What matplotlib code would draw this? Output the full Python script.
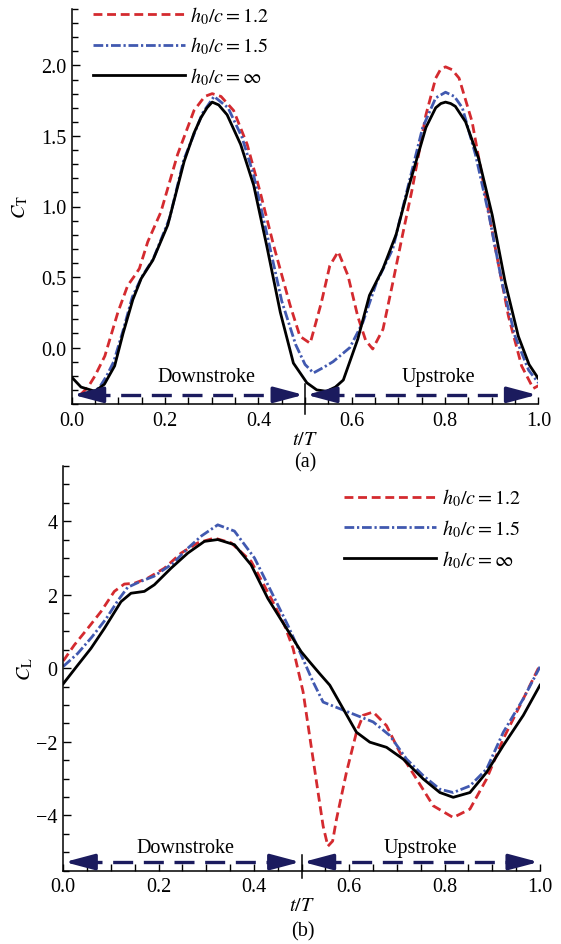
import matplotlib
matplotlib.use('Agg')
import matplotlib.pyplot as plt
import numpy as np

plt.rcParams['font.family'] = ['Liberation Serif', 'DejaVu Serif']
plt.rcParams['mathtext.fontset'] = 'stix'
plt.rcParams['font.size'] = 14.5
plt.rcParams['lines.solid_joinstyle'] = 'round'
plt.rcParams['lines.dash_joinstyle'] = 'round'

# ---- (a) thrust coefficient ----
t_ct_inf = [0.0, 0.02, 0.05, 0.07, 0.092, 0.11, 0.131, 0.149, 0.174, 0.206, 0.241, 0.262, 0.277,
            0.29, 0.301, 0.315, 0.333, 0.362, 0.39, 0.418, 0.447, 0.475, 0.504, 0.525, 0.546,
            0.565, 0.582, 0.613, 0.638, 0.667, 0.695, 0.723, 0.759, 0.78, 0.791, 0.801, 0.812,
            0.822, 0.844, 0.872, 0.901, 0.929, 0.957, 0.98, 1.0]
ct_inf = [-0.21, -0.28, -0.31, -0.26, -0.13, 0.10, 0.34, 0.49, 0.62, 0.87, 1.32, 1.52, 1.63,
          1.70, 1.74, 1.72, 1.65, 1.44, 1.15, 0.72, 0.25, -0.11, -0.25, -0.30, -0.31,
          -0.28, -0.23, 0.06, 0.37, 0.56, 0.80, 1.15, 1.56, 1.70, 1.73, 1.74, 1.73,
          1.71, 1.60, 1.34, 0.94, 0.46, 0.08, -0.12, -0.22]

t_ct_12 = [0.02, 0.035, 0.05, 0.071, 0.099, 0.12, 0.135, 0.145, 0.163, 0.191, 0.227, 0.262, 0.285,
           0.301, 0.32, 0.347, 0.376, 0.404, 0.433, 0.468, 0.489, 0.511, 0.535, 0.553, 0.571,
           0.592, 0.613, 0.63, 0.645, 0.667, 0.688, 0.709, 0.73, 0.759, 0.78, 0.79, 0.801, 0.815,
           0.83, 0.858, 0.879, 0.908, 0.936, 0.964, 0.989, 1.0]
ct_12 = [-0.33, -0.28, -0.20, -0.06, 0.25, 0.44, 0.51, 0.56, 0.75, 0.96, 1.37, 1.68, 1.78,
         1.80, 1.78, 1.68, 1.44, 1.10, 0.72, 0.30, 0.08, 0.03, 0.32, 0.58, 0.68,
         0.51, 0.22, 0.05, -0.01, 0.13, 0.46, 0.80, 1.13, 1.65, 1.91, 1.97, 1.99, 1.97,
         1.91, 1.60, 1.22, 0.70, 0.22, -0.13, -0.29, -0.27]

t_ct_15 = [0.03, 0.045, 0.06, 0.075, 0.09, 0.11, 0.13, 0.15, 0.175, 0.21, 0.24, 0.28, 0.305,
           0.335, 0.365, 0.39, 0.42, 0.45, 0.48, 0.50, 0.518, 0.54, 0.56, 0.596, 0.624,
           0.653, 0.688, 0.716, 0.752, 0.78, 0.801, 0.82, 0.837, 0.865, 0.894, 0.922,
           0.95, 0.979, 1.0]
ct_15 = [-0.33, -0.32, -0.28, -0.20, -0.10, 0.12, 0.36, 0.50, 0.63, 0.92, 1.33, 1.66, 1.78,
         1.70, 1.49, 1.22, 0.78, 0.33, 0.02, -0.12, -0.18, -0.14, -0.10, 0.0, 0.18,
         0.46, 0.70, 1.08, 1.56, 1.77, 1.81, 1.78, 1.70, 1.37, 0.94, 0.46,
         0.08, -0.16, -0.25]

# ---- (b) lift coefficient ----
t_cl_inf = [0.0, 0.03, 0.058, 0.086, 0.121, 0.142, 0.17, 0.191, 0.226, 0.261, 0.296, 0.324,
            0.359, 0.394, 0.429, 0.464, 0.499, 0.517, 0.538, 0.559, 0.587, 0.615, 0.643,
            0.678, 0.713, 0.755, 0.79, 0.818, 0.853, 0.888, 0.923, 0.965, 1.0]
cl_inf = [-0.42, 0.08, 0.54, 1.08, 1.81, 2.04, 2.09, 2.27, 2.72, 3.13, 3.45, 3.50,
          3.36, 2.81, 1.90, 1.17, 0.45, 0.17, -0.15, -0.46, -1.10, -1.74, -2.01,
          -2.15, -2.47, -3.01, -3.38, -3.51, -3.38, -2.83, -2.10, -1.28, -0.46]

t_cl_12 = [0.0, 0.023, 0.051, 0.079, 0.107, 0.128, 0.149, 0.177, 0.212, 0.247, 0.282, 0.317,
           0.352, 0.394, 0.436, 0.464, 0.482, 0.503, 0.524, 0.545, 0.555, 0.565, 0.573,
           0.594, 0.615, 0.629, 0.65, 0.678, 0.706, 0.741, 0.776, 0.818, 0.853, 0.888,
           0.923, 0.965, 1.0]
cl_12 = [0.2, 0.63, 1.08, 1.54, 2.09, 2.29, 2.31, 2.45, 2.72, 3.13, 3.41, 3.54,
         3.41, 2.91, 1.90, 1.17, 0.54, -0.64, -2.47, -4.29, -4.84, -4.7, -4.11,
         -2.83, -1.74, -1.28, -1.19, -1.56, -2.29, -3.01, -3.74, -4.06, -3.83, -3.01,
         -1.92, -0.83, 0.09]

t_cl_15 = [0.0, 0.03, 0.06, 0.09, 0.115, 0.135, 0.16, 0.19, 0.23, 0.26, 0.29, 0.324, 0.359,
           0.401, 0.436, 0.471, 0.496, 0.524, 0.545, 0.58, 0.615, 0.65, 0.685, 0.72, 0.755,
           0.79, 0.818, 0.853, 0.888, 0.923, 0.965, 1.0]
cl_15 = [0.05, 0.4, 0.85, 1.35, 1.85, 2.2, 2.35, 2.5, 2.85, 3.25, 3.6, 3.90, 3.73,
         3.0, 2.09, 1.17, 0.45, -0.37, -0.92, -1.10, -1.28, -1.46, -1.83, -2.47, -2.92,
         -3.29, -3.38, -3.20, -2.74, -1.74, -0.83, 0.04]

labels = [r'$h_0/c = 1.2$', r'$h_0/c = 1.5$', r'$h_0/c = \infty$']
red = '#d42a2f'
blue = '#4159b0'
navy = '#1b1b5e'

W, H = 561, 945
fig = plt.figure(figsize=(W / 100, H / 100), dpi=100)

def px_axes(l, r, b, t):
    return fig.add_axes([l / W, 1 - b / H, (r - l) / W, (b - t) / H])

ax1 = px_axes(71.7, 538.4, 405, 10)
ax2 = px_axes(63.3, 540, 871.5, 467)


def style(ax, ylim, ymajor, yminor, fmt):
    ax.set_xlim(0, 1)
    ax.set_ylim(*ylim)
    for s in ['top', 'right']:
        ax.spines[s].set_visible(False)
    for s in ['left', 'bottom']:
        ax.spines[s].set_linewidth(1.1)
    ax.set_xticks(np.arange(0, 1.01, 0.2))
    ax.set_xticks(np.arange(0, 1.01, 0.05), minor=True)
    ax.set_xticklabels(['%.1f' % v for v in np.arange(0, 1.01, 0.2)])
    ax.set_yticks(ymajor)
    ax.set_yticks(yminor, minor=True)
    ax.set_yticklabels([fmt(v) for v in ymajor])
    ax.tick_params(which='major', direction='in', length=6, width=1, pad=4)
    ax.tick_params(which='minor', direction='in', length=4, width=1)
    ax.tick_params(axis='x', which='both', length=5, pad=5)
    ax.set_xlabel(r'$t/T$', labelpad=0)


def stroke_arrows(ax, y, ytxt, xtxt, div):
    for a, b in [(0.0, 0.5), (0.5, 1.0)]:
        ax.plot([a + 0.04, b - 0.04], [y, y], color=navy, lw=2.4,
                ls=(0, (6, 3.2)), solid_capstyle='butt', dash_capstyle='butt', clip_on=False)
        for tip, tail in [(a + 0.003, a + 0.05), (b - 0.003, b - 0.05)]:
            ax.annotate('', xy=(tip, y), xytext=(tail, y),
                        arrowprops=dict(arrowstyle='-|>,head_length=0.9,head_width=0.24',
                                        color=navy, lw=2.4, shrinkA=0, shrinkB=0,
                                        mutation_scale=20), annotation_clip=False)
    ax.plot([0.5, 0.5], div, color='black', lw=1.1, clip_on=False)
    ax.text(xtxt[0], ytxt, 'Downstroke', ha='center', va='center', fontsize=14.5)
    ax.text(xtxt[1], ytxt, 'Upstroke', ha='center', va='center', fontsize=14.5)


# (a)
ax1.plot(t_ct_12, ct_12, color=red, lw=2, ls=(0, (3.2, 1.7)), label=labels[0])
ax1.plot(t_ct_15, ct_15, color=blue, lw=2, ls=(0, (3.5, 1.0, 0.8, 1.0)), label=labels[1])
ax1.plot(t_ct_inf, ct_inf, color='black', lw=2, label=labels[2])
style(ax1, (-0.4, 2.4), np.arange(0, 2.01, 0.5), np.arange(-0.4, 2.41, 0.1),
      lambda v: '%.1f' % v)
ax1.set_ylabel(r'$C_\mathrm{T}$')
ax1.yaxis.set_label_coords(-0.088, 0.5)
stroke_arrows(ax1, -0.335, -0.205, (0.289, 0.785), (-0.26, -0.47))
ax1.legend(loc='upper left', bbox_to_anchor=(0.045, 1.012), frameon=False,
           handlelength=4.6, handletextpad=0.25, labelspacing=0.45,
           borderpad=0, borderaxespad=0, fontsize=14.5)

# (b)
ax2.plot(t_cl_12, cl_12, color=red, lw=2, ls=(0, (3.2, 1.7)), label=labels[0])
ax2.plot(t_cl_15, cl_15, color=blue, lw=2, ls=(0, (3.5, 1.0, 0.8, 1.0)), label=labels[1])
ax2.plot(t_cl_inf, cl_inf, color='black', lw=2, label=labels[2])
style(ax2, (-5.5, 5.5), np.arange(-4, 4.1, 2), np.arange(-5.5, 5.51, 0.5),
      lambda v: ('%d' % v).replace('-', '\u2212'))
ax2.set_ylabel(r'$C_\mathrm{L}$')
ax2.yaxis.set_label_coords(-0.058, 0.5)
stroke_arrows(ax2, -5.27, -4.88, (0.257, 0.75), (-5.08, -5.7))
ax2.legend(loc='upper left', bbox_to_anchor=(0.588, 0.948), frameon=False,
           handlelength=4.6, handletextpad=0.3, labelspacing=0.45,
           borderpad=0, borderaxespad=0, fontsize=14.5)

fig.text(305 / W, 1 - 463 / H, '(a)', ha='center', va='center', fontsize=14.5)
fig.text(303 / W, 1 - 932 / H, '(b)', ha='center', va='center', fontsize=14.5)

fig.savefig('out.png', dpi=100)
